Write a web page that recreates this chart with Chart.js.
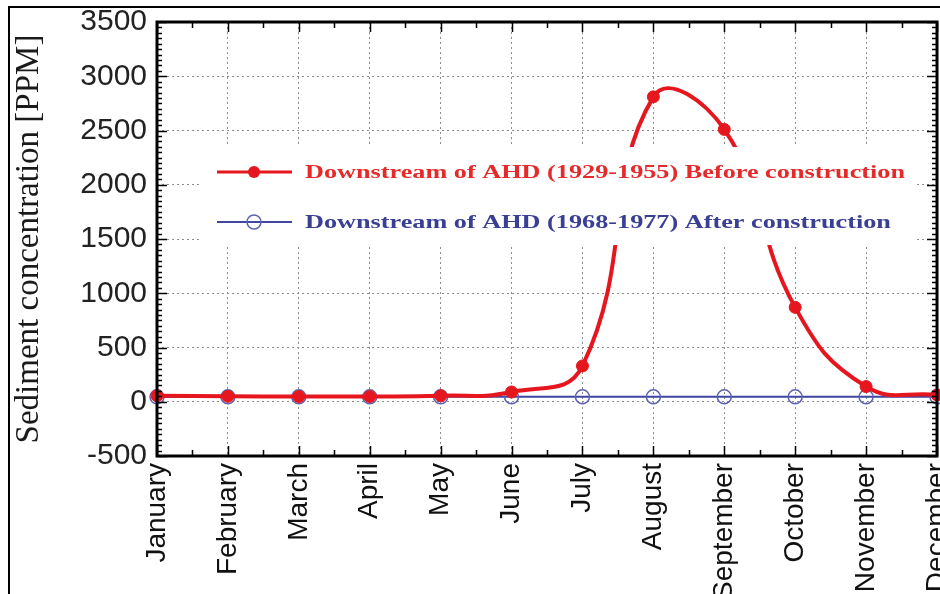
<!DOCTYPE html>
<html>
<head>
<meta charset="utf-8">
<script src="https://cdn.jsdelivr.net/npm/chart.js@4/dist/chart.umd.min.js"></script>
<style>
  html, body { margin: 0; padding: 0; background: #ffffff; }
  #wrap { width: 940px; height: 594px; }
</style>
</head>
<body>
<div id="wrap"><canvas id="c" width="940" height="594"></canvas></div>
<script>
// ---- data ----
const months = ['January', 'February', 'March', 'April', 'May', 'June',
                'July', 'August', 'September', 'October', 'November', 'December'];
const beforeConstruction = [55, 50, 48, 48, 55, 90, 330, 2810, 2510, 870, 140, 63];
const afterConstruction  = [45, 45, 45, 45, 45, 45, 45, 45, 45, 45, 45, 45];
const seriesNames = ['Downstream of AHD (1929-1955) Before construction',
                     'Downstream of AHD (1968-1977) After construction'];
const yMin = -500, yMax = 3500, yStep = 500, yMinorStep = 50;
const yTitle = 'Sediment concentration [PPM]';

const RED = '#e5161e';
const BLUE = '#3f45a0';

// legend drawn inside the plot on an opaque white box
const insideLegend = {
  id: 'insideLegend',
  afterDatasetsDraw(chart) {
    const ctx = chart.ctx;
    ctx.save();
    ctx.fillStyle = '#ffffff';
    ctx.fillRect(200, 147, 715, 98);
    const rows = [
      { y: 172, color: RED, filled: true, text: seriesNames[0], tc: '#e42a2a' },
      { y: 222, color: BLUE, filled: false, text: seriesNames[1], tc: '#3a3f96' }
    ];
    ctx.font = 'bold 18px "Liberation Serif", "Times New Roman", serif';
    const w0 = ctx.measureText(seriesNames[0]).width;
    const sx = 600 / w0;
    rows.forEach(r => {
      ctx.strokeStyle = r.color;
      ctx.lineWidth = r.filled ? 3 : 2;
      ctx.beginPath();
      ctx.moveTo(217, r.y); ctx.lineTo(292, r.y);
      ctx.stroke();
      ctx.beginPath();
      ctx.arc(254, r.y, r.filled ? 6 : 7, 0, Math.PI * 2);
      if (r.filled) { ctx.fillStyle = r.color; ctx.fill(); }
      else { ctx.lineWidth = 1.5; ctx.strokeStyle = '#5d62b0'; ctx.stroke(); }
      ctx.save();
      ctx.translate(305, r.y);
      ctx.scale(sx, 1);
      ctx.fillStyle = r.tc;
      ctx.textBaseline = 'middle';
      ctx.textAlign = 'left';
      ctx.fillText(r.text, 0, 1);
      ctx.restore();
    });
    ctx.restore();
  }
};

// box frame, inward major/minor ticks, figure border
const frame = {
  id: 'frame',
  afterDraw(chart) {
    const ctx = chart.ctx;
    const { left, right, top, bottom } = chart.chartArea;
    const ys = chart.scales.y, xs = chart.scales.x;
    ctx.save();
    ctx.strokeStyle = '#000';
    ctx.lineWidth = 1.5;
    ctx.beginPath();
    for (let v = yMin; v <= yMax; v += yMinorStep) {
      const y = Math.round(ys.getPixelForValue(v)) + 0.5;
      const len = (v % yStep === 0) ? 10 : 5;
      ctx.moveTo(left, y); ctx.lineTo(left + len, y);
      ctx.moveTo(right, y); ctx.lineTo(right - len, y);
    }
    for (let i = 0; i < months.length; i++) {
      const x = Math.round(xs.getPixelForValue(i)) + 0.5;
      ctx.moveTo(x, bottom); ctx.lineTo(x, bottom - 10);
      ctx.moveTo(x, top); ctx.lineTo(x, top + 10);
      if (i < months.length - 1) {
        const xm = Math.round((xs.getPixelForValue(i) + xs.getPixelForValue(i + 1)) / 2) + 0.5;
        ctx.moveTo(xm, bottom); ctx.lineTo(xm, bottom - 6);
        ctx.moveTo(xm, top); ctx.lineTo(xm, top + 6);
      }
    }
    ctx.stroke();
    ctx.lineWidth = 3;
    ctx.strokeRect(left, top, right - left, bottom - top);
    // outer figure border
    ctx.lineWidth = 2;
    ctx.beginPath();
    ctx.moveTo(9, 594); ctx.lineTo(9, 7); ctx.lineTo(940, 7);
    ctx.stroke();
    ctx.restore();
  }
};

new Chart(document.getElementById('c'), {
  type: 'line',
  data: {
    labels: months,
    datasets: [
      {
        label: seriesNames[0],
        data: beforeConstruction,
        borderColor: RED,
        backgroundColor: RED,
        borderWidth: 4,
        pointRadius: 6,
        pointBackgroundColor: RED,
        pointBorderColor: RED,
        pointBorderWidth: 1,
        tension: 0.45,
        clip: false
      },
      {
        label: seriesNames[1],
        data: afterConstruction,
        borderColor: BLUE,
        backgroundColor: 'rgba(0,0,0,0)',
        borderWidth: 2,
        pointRadius: 7,
        pointBackgroundColor: 'rgba(0,0,0,0)',
        pointBorderColor: '#5d62b0',
        pointBorderWidth: 1.5,
        tension: 0,
        clip: false
      }
    ]
  },
  options: {
    responsive: false,
    animation: false,
    devicePixelRatio: 1,
    layout: { autoPadding: false, padding: { left: 10, top: 22, right: 3, bottom: 0 } },
    plugins: { legend: { display: false }, tooltip: { enabled: false }, title: { display: false } },
    scales: {
      x: {
        type: 'category',
        offset: false,
        grid: { display: true, color: '#8c8c8c', lineWidth: 1, drawTicks: false },
        border: { display: false, dash: [2, 3] },
        ticks: {
          autoSkip: false, maxRotation: 90, minRotation: 90, padding: 7,
          color: '#111',
          font: { family: '"Liberation Sans", Arial, sans-serif', size: 28 }
        },
        afterFit(scale) {
          scale.height = 138;
          scale.paddingLeft = 0; scale.paddingRight = 0;
        }
      },
      y: {
        min: yMin, max: yMax,
        grid: { display: true, color: '#8c8c8c', lineWidth: 1, drawTicks: false },
        border: { display: false, dash: [2, 3] },
        ticks: {
          stepSize: yStep, padding: 10, color: '#222',
          font: { family: '"Liberation Sans", Arial, sans-serif', size: 30 },
          callback: (v) => String(v)
        },
        title: {
          display: true, text: yTitle, color: '#1a1a1a',
          padding: { top: 0, bottom: 0 },
          font: { family: '"Liberation Serif", "Times New Roman", serif', size: 33 }
        },
        afterFit(scale) {
          scale.width = 147;
          scale.paddingTop = 0; scale.paddingBottom = 0;
        }
      }
    }
  },
  plugins: [insideLegend, frame]
});
</script>
</body>
</html>
